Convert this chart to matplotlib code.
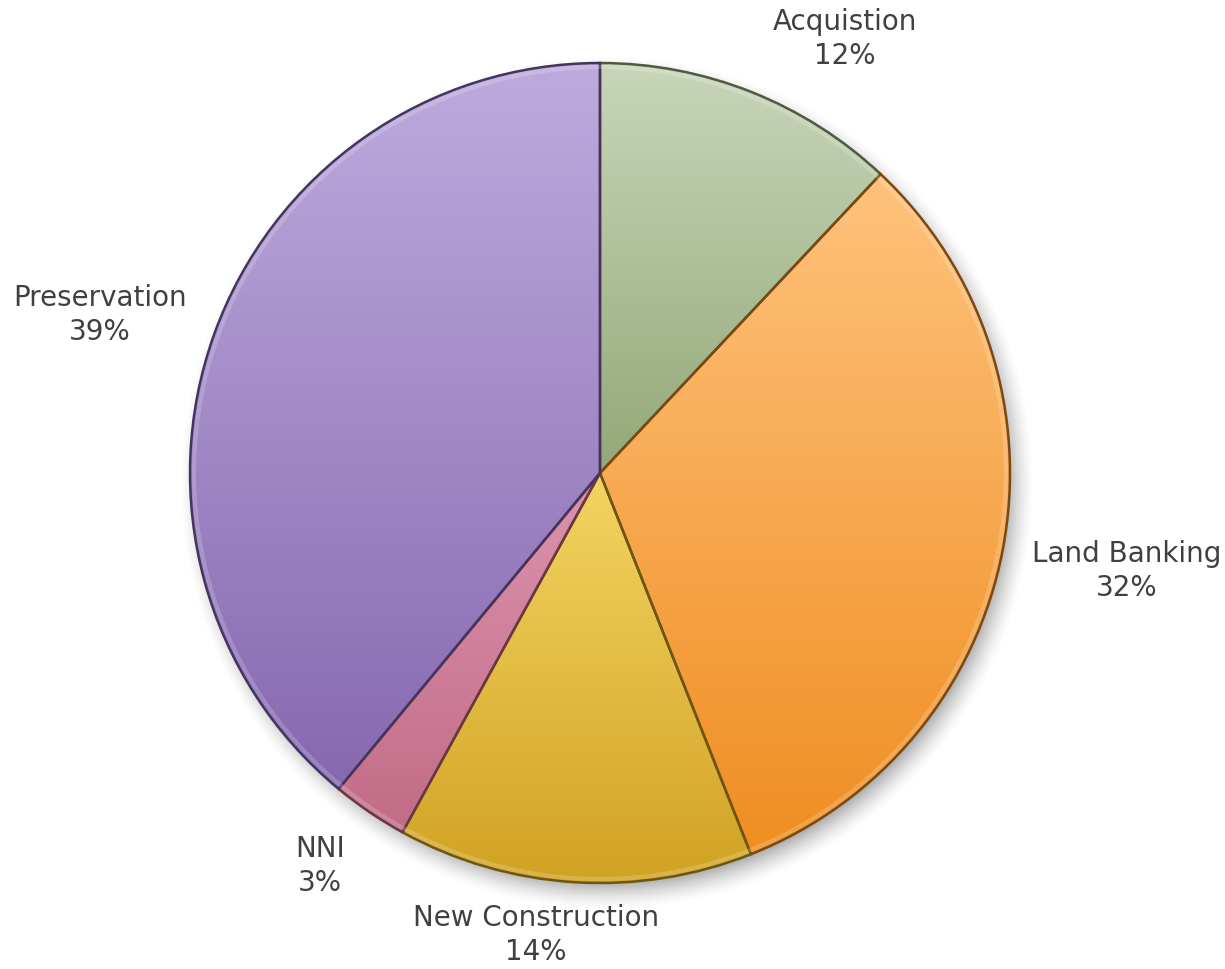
import numpy as np
import matplotlib.pyplot as plt
from matplotlib.colors import LinearSegmentedColormap

# share of funding by activity, clockwise from 12 o'clock
categories = ["Acquistion", "Land Banking", "New Construction", "NNI", "Preservation"]
shares = [12, 32, 14, 3, 39]

# gradient ends for each slice (top -> bottom)
top_colors = ["#c8d6b9", "#ffc27c", "#f4d462", "#dc93ad", "#bdabdd"]
bottom_colors = ["#93a878", "#ef8e22", "#d1a223", "#c26c87", "#8668b0"]
edge_colors = ["#4f5a40", "#7a4810", "#6d5612", "#6a3646", "#44345e"]

# label anchor points (figure pixels, y up)
label_xy = [(845, 931), (1127, 399), (536, 35), (320, 104), (100, 655)]

fig = plt.figure(figsize=(12.25, 9.7), dpi=100)
ax = fig.add_axes([0, 0, 1, 1])

cx, cy, r = 600, 496, 410

# soft drop shadow under the pie
gx, gy = np.meshgrid(np.linspace(0, 1225, 613), np.linspace(0, 970, 486))
d = np.hypot(gx - (cx + 7), gy - (cy - 10))
a = np.clip((r + 18 - d) / 34, 0, 1) ** 1.5 * 0.6
shadow = np.zeros(gx.shape + (4,))
shadow[..., :3] = 0.3
shadow[..., 3] = a
ax.imshow(shadow, extent=(0, 1225, 0, 970), origin="lower", zorder=0,
          interpolation="bilinear")

wedges, _ = ax.pie(shares, center=(cx, cy), radius=r, startangle=90,
                   counterclock=False, labels=None)

for w, top, bot, ec in zip(wedges, top_colors, bottom_colors, edge_colors):
    t = np.radians(np.linspace(w.theta1, w.theta2, 200))
    ys = np.concatenate([[cy], cy + r * np.sin(t)])
    y0, y1 = ys.min(), ys.max()
    cmap = LinearSegmentedColormap.from_list("g", [bot, top])
    grad = np.linspace(0, 1, 256).reshape(-1, 1)
    im = ax.imshow(grad, cmap=cmap, extent=(cx - r, cx + r, y0, y1),
                   origin="lower", aspect="auto", zorder=2)
    im.set_clip_path(w)
    w.set_facecolor("none")
    w.set_edgecolor(ec)
    w.set_linewidth(1.8)
    w.set_zorder(3)

# faint bevel along the rim
rim = plt.Circle((cx, cy), r - 4, fill=False, edgecolor="white", alpha=0.18,
                 linewidth=3, zorder=4)
ax.add_patch(rim)

for name, val, (x, y) in zip(categories, shares, label_xy):
    ax.text(x, y, f"{name}\n{val}%", ha="center", va="center", fontsize=20,
            color="#404040", linespacing=1.25, family="DejaVu Sans")

ax.set_xlim(0, 1225)
ax.set_ylim(0, 970)
ax.set_aspect("equal")
ax.axis("off")

fig.savefig("out.png", dpi=100, facecolor="white")
